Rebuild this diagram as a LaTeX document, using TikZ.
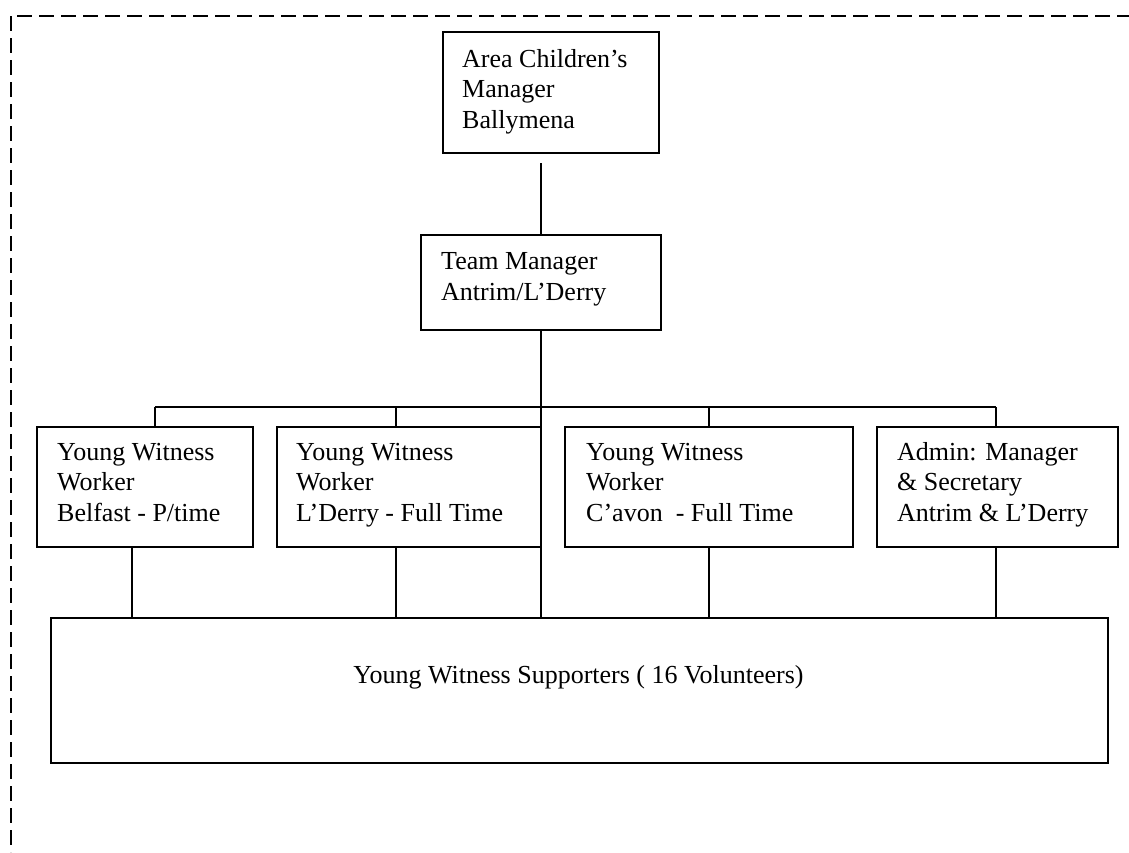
\documentclass[tikz,border=0pt]{standalone}
\usepackage{fontspec}
\setmainfont{Liberation Serif}
\begin{document}
\begin{tikzpicture}[x=1pt,y=-1pt,
  box/.style={draw,line width=2pt,rectangle,inner sep=0pt,anchor=north west},
  txt/.style={anchor=base west,align=left,inner sep=0pt,font=\fontsize{26}{30.5}\selectfont},
  conn/.style={line width=1.5pt},
  border/.style={line width=1.5pt,dash pattern=on 15pt off 7pt}]
\useasboundingbox (0,0) rectangle (1129,852);
% dashed frame
\draw[border] (17,16) -- (1129,16);
\draw[border] (11,16) -- (11,852);
% boxes
\node[box,minimum width=216pt,minimum height=121pt] (A) at (442,31) {};
\node[box,minimum width=240pt,minimum height=95pt] (B) at (420,234) {};
\node[box,minimum width=216pt,minimum height=120pt] (W1) at (36,426) {};
\node[box,minimum width=264pt,minimum height=120pt] (W2) at (276,426) {};
\node[box,minimum width=288pt,minimum height=120pt] (W3) at (564,426) {};
\node[box,minimum width=241pt,minimum height=120pt] (W4) at (876,426) {};
\node[box,minimum width=1057pt,minimum height=145pt] (S) at (50,617) {};
% texts (anchored at the baseline of the last line)
\node[txt] (tA) at (462,128) {Area Children’s\\Manager\\Ballymena};
\node[txt] (tB) at (441,300) {Team Manager\\Antrim/L’Derry};
\node[txt] (t1) at (57,521) {Young Witness\\Worker\\Belfast - P/time};
\node[txt] (t2) at (296,521) {Young Witness\\Worker\\L’Derry - Full Time};
\node[txt] (t3) at (586,521) {Young Witness\\Worker\\C’avon\ \ - Full Time};
\node[txt] (t4) at (897,521) {Admin: Manager\\\& Secretary\\Antrim \& L’Derry};
\node[txt,anchor=base] (tS) at (578.5,683) {Young Witness Supporters ( 16 Volunteers)};
% connectors
\coordinate (busL) at (155,407);
\coordinate (busR) at (996,407);
\draw[conn] ([yshift=-9pt]A.south -| B.north) -- (B.north);
\draw[conn] (B.south) -- (B.south |- S.north);
\draw[conn] (busL) -- (busR);
\draw[conn] (busL) -- (busL |- W1.north);
\draw[conn] (W2.north -| 396,0) -- (396,407);
\draw[conn] (W3.north) -- (W3.north |- busL);
\draw[conn] (busR) -- (busR |- W4.north);
\draw[conn] (W1.south -| 132,0) -- (S.north -| 132,0);
\draw[conn] (W2.south -| 396,0) -- (S.north -| 396,0);
\draw[conn] (W3.south) -- (W3.south |- S.north);
\draw[conn] (W4.south -| 996,0) -- (S.north -| 996,0);
\end{tikzpicture}
\end{document}
